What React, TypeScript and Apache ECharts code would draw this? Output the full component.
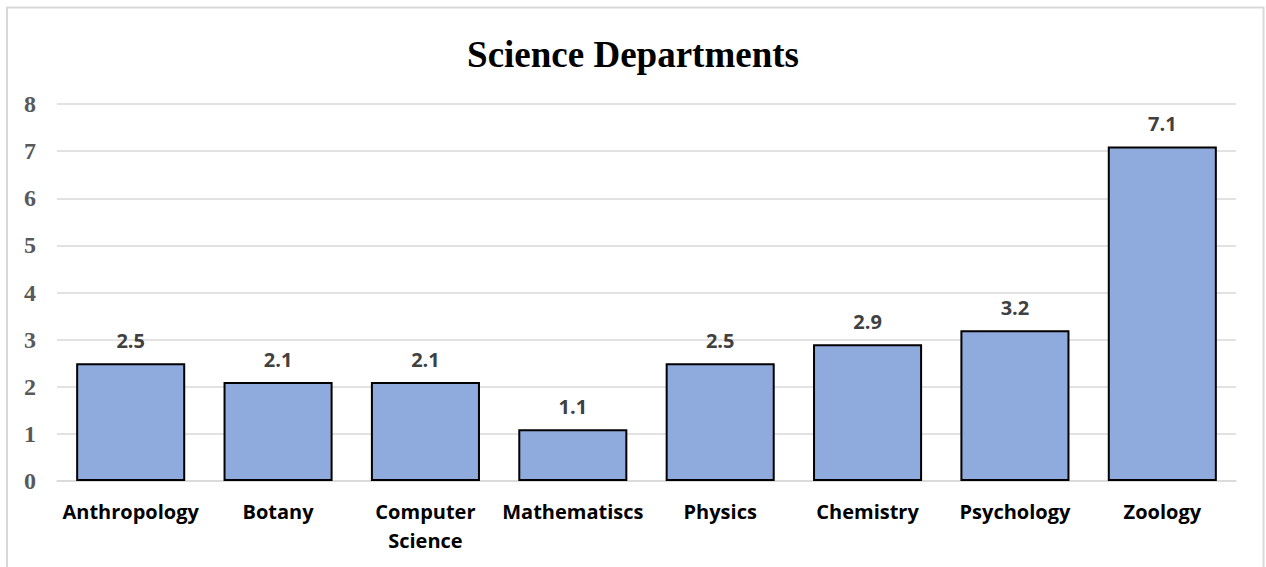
import React, { useEffect, useRef } from "react";
import * as echarts from "echarts";

const categories = [
  "Anthropology",
  "Botany",
  "Computer\nScience",
  "Mathematiscs",
  "Physics",
  "Chemistry",
  "Psychology",
  "Zoology",
];
const values = [2.5, 2.1, 2.1, 1.1, 2.5, 2.9, 3.2, 7.1];
const chartTitle = "Science Departments";

export default function App() {
  const ref = useRef<HTMLDivElement>(null);
  useEffect(() => {
    if (!ref.current) return;
    const chart = echarts.init(ref.current, undefined, { renderer: "svg" });
    chart.setOption({
      animation: false,
      backgroundColor: "#ffffff",
      title: {
        text: chartTitle,
        left: "center",
        top: 31,
        textStyle: {
          fontFamily: "Liberation Serif",
          fontWeight: "bold",
          fontSize: 37,
          color: "#000000",
        },
      },
      graphic: [
        {
          type: "rect",
          shape: { x: 7, y: 7.5, width: 1256.5, height: 620 },
          style: { fill: "none", stroke: "#D9D9D9", lineWidth: 2 },
          silent: true,
        },
      ],
      grid: { left: 57, right: 30, top: 104, bottom: 86, containLabel: false },
      xAxis: {
        type: "category",
        data: categories,
        axisLine: { show: true, lineStyle: { color: "#D9D9D9", width: 1.5 } },
        axisTick: { show: false },
        axisLabel: {
          interval: 0,
          margin: 16,
          fontFamily: "Open Sans",
          fontWeight: "bold",
          fontSize: 20,
          lineHeight: 29,
          color: "#000000",
        },
      },
      yAxis: {
        type: "value",
        min: 0,
        max: 8,
        interval: 1,
        axisLine: { show: false },
        axisTick: { show: false },
        splitLine: { lineStyle: { color: "#D9D9D9", width: 1.5 } },
        axisLabel: {
          margin: 21,
          fontFamily: "Liberation Serif",
          fontWeight: "bold",
          fontSize: 24,
          color: "#595959",
        },
      },
      series: [
        {
          type: "bar",
          data: values,
          barWidth: "74%",
          itemStyle: { color: "#8FAADC", borderColor: "#000000", borderWidth: 2 },
          label: {
            show: true,
            position: "top",
            distance: 13,
            fontFamily: "Open Sans",
            fontWeight: "bold",
            fontSize: 20,
            color: "#404040",
          },
        },
      ],
    });
    return () => chart.dispose();
  }, []);
  return (
    <div
      ref={ref}
      style={{ position: "absolute", left: 0, top: 0, width: 1266, height: 567 }}
    />
  );
}
